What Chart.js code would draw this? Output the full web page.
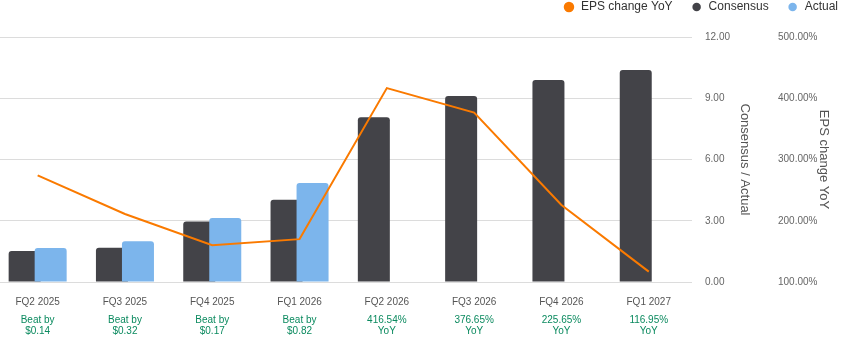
<!DOCTYPE html>
<html>
<head>
<meta charset="utf-8">
<script src="https://cdn.jsdelivr.net/npm/chart.js@4/dist/chart.umd.min.js"></script>
<style>
  html, body { margin: 0; padding: 0; width: 848px; height: 342px; overflow: hidden; background: #fff; }
  #wrap { position: absolute; left: -6px; top: -17px; width: 862px; height: 361px; }
</style>
</head>
<body>
<div id="wrap"><canvas id="chart"></canvas></div>
<script>
// 数据
var categories = ['FQ2 2025', 'FQ3 2025', 'FQ4 2025', 'FQ1 2026', 'FQ2 2026', 'FQ3 2026', 'FQ4 2026', 'FQ1 2027'];
var surpriseLabels = [
    ['Beat by', '$0.14'], ['Beat by', '$0.32'], ['Beat by', '$0.17'], ['Beat by', '$0.82'],
    ['416.54%', 'YoY'], ['376.65%', 'YoY'], ['225.65%', 'YoY'], ['116.95%', 'YoY']
];
var consensus = [1.52, 1.68, 2.96, 4.03, 8.07, 9.11, 9.89, 10.38];
var actual = [1.66, 2.00, 3.13, 4.85, null, null, null, null];
var epsChangeYoY = [274, 211, 160, 170, 416.54, 376.65, 225.65, 116.95];
var consensusTicks = [0, 3, 6, 9, 12];
var yoyTicks = [100, 200, 300, 400, 500];

var FONT = '"Liberation Sans", Arial, sans-serif';
var ORANGE = '#fa7a00', DARK = '#434348', BLUE = '#7cb5ec', GREEN = '#0b8a5f';

// actual 柱子画在 consensus 之上
var barOrderPlugin = {
    id: 'barOrder',
    beforeDatasetDraw: function (chart, args) {
        if (args.index === 2) return false;
    },
    afterDatasetDraw: function (chart, args) {
        if (args.index === 1) chart.getDatasetMeta(2).controller.draw();
    }
};

// 图例与绘图区之间留空
var legendGapPlugin = {
    id: 'legendGap',
    beforeInit: function (chart) {
        var fit = chart.legend.fit;
        chart.legend.fit = function () {
            fit.bind(chart.legend)();
            this.height += 14;
        };
    }
};

var ctx = document.getElementById('chart');
new Chart(ctx, {
    type: 'bar',
    data: {
        labels: categories,
        datasets: [{
            type: 'line',
            label: 'EPS change YoY',
            data: epsChangeYoY,
            yAxisID: 'yoy',
            borderColor: ORANGE,
            backgroundColor: ORANGE,
            borderWidth: 2,
            pointRadius: 0,
            tension: 0
        }, {
            label: 'Consensus',
            data: consensus,
            yAxisID: 'y',
            backgroundColor: DARK,
            borderRadius: 3,
            categoryPercentage: 0.596,
            barPercentage: 1.23
        }, {
            label: 'Actual',
            data: actual,
            yAxisID: 'y',
            backgroundColor: BLUE,
            borderRadius: 3,
            categoryPercentage: 0.596,
            barPercentage: 1.23
        }]
    },
    options: {
        responsive: true,
        maintainAspectRatio: false,
        animation: false,
        layout: { padding: { left: 0, right: 0, top: 0, bottom: 7 } },
        plugins: {
            legend: {
                position: 'top',
                align: 'end',
                labels: {
                    usePointStyle: true,
                    pointStyle: 'circle',
                    boxHeight: 6,
                    padding: 18,
                    color: '#333',
                    font: { family: FONT, size: 12 },
                    sort: function (a, b) { return a.datasetIndex - b.datasetIndex; }
                }
            },
            tooltip: { enabled: false }
        },
        scales: {
            x: {
                position: 'bottom',
                weight: 0,
                offset: true,
                afterFit: function (axis) { axis.height = 25; },
                grid: { display: false, drawTicks: false },
                border: { display: false },
                ticks: {
                    autoSkip: false, maxRotation: 0, padding: 14,
                    color: '#555', font: { family: FONT, size: 10 }
                }
            },
            x2: {
                type: 'category',
                position: 'bottom',
                weight: 1,
                labels: surpriseLabels,
                offset: true,
                afterFit: function (axis) { axis.height = 30; },
                grid: { display: false, drawTicks: false },
                border: { display: false },
                ticks: {
                    autoSkip: false, maxRotation: 0, padding: 8,
                    color: GREEN, font: { family: FONT, size: 10, lineHeight: 1.1 }
                }
            },
            y: {
                position: 'right',
                weight: 0,
                min: 0, max: 12,
                afterBuildTicks: function (axis) {
                    axis.ticks = consensusTicks.map(function (v) { return { value: v }; });
                },
                afterFit: function (axis) {
                    axis.width = 64;
                },
                grid: { color: '#dcdcdc', drawTicks: false },
                border: { display: false },
                ticks: {
                    padding: 12.6, color: '#666', font: { family: FONT, size: 10 },
                    callback: function (v) { return Number(v).toFixed(2); }
                },
                title: {
                    display: true, text: 'Consensus / Actual', color: '#555',
                    font: { family: FONT, size: 13 }
                }
            },
            yoy: {
                position: 'right',
                weight: 1,
                min: 100, max: 500,
                afterBuildTicks: function (axis) {
                    axis.ticks = yoyTicks.map(function (v) { return { value: v }; });
                },
                afterFit: function (axis) {
                    axis.width = 862 - 698.4 - 64;
                },
                grid: { display: false },
                border: { display: false },
                ticks: {
                    padding: 13.6, color: '#666', font: { family: FONT, size: 10 },
                    callback: function (v) { return Number(v).toFixed(2) + '%'; }
                },
                title: {
                    display: true, text: 'EPS change YoY', color: '#555',
                    font: { family: FONT, size: 13 },
                    padding: { top: 24.2, bottom: 4 }
                }
            }
        }
    },
    plugins: [barOrderPlugin, legendGapPlugin]
});
</script>
</body>
</html>
